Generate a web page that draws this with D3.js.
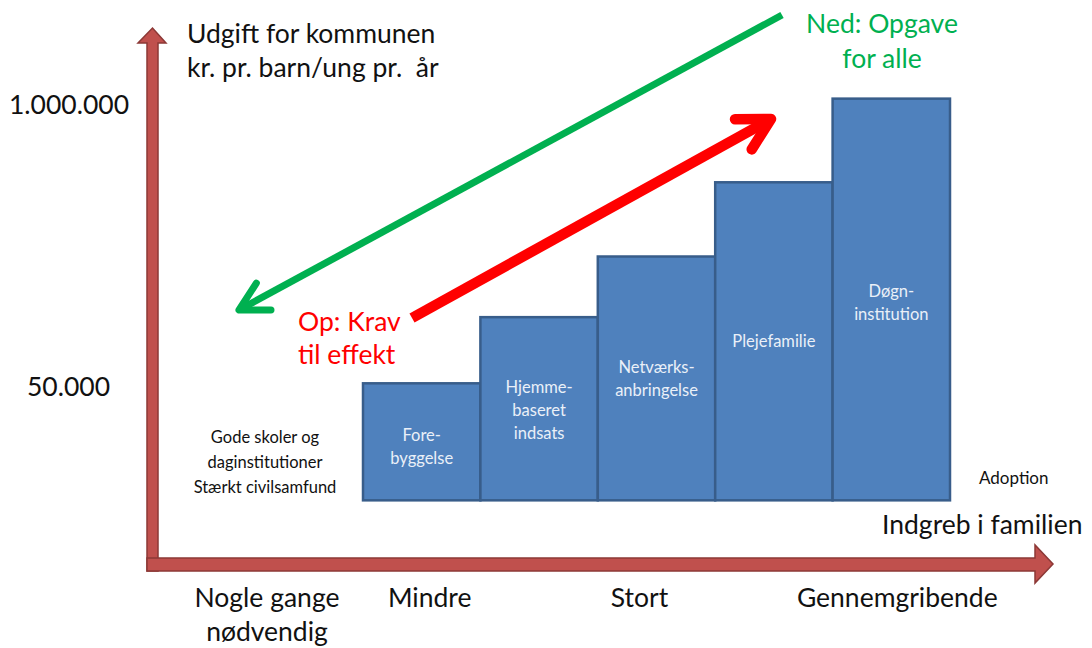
<!DOCTYPE html>
<html>
<head>
<meta charset="utf-8">
<script src="https://cdn.jsdelivr.net/npm/d3@7"></script>
<style>
  body { margin: 0; background: #fff; }
  text { font-family: Lato, "Open Sans", sans-serif; }
</style>
</head>
<body>
<div id="chart"></div>
<script>
// indsatser (bars) and their yearly cost per child, kr.
const categories = ["Forebyggelse", "Hjemmebaseret", "Netværksanbringelse", "Plejefamilie", "Døgninstitution"];
const barLabels = [["Fore-", "byggelse"], ["Hjemme-", "baseret", "indsats"], ["Netværks-", "anbringelse"], ["Plejefamilie"], ["Døgn-", "institution"]];
const costs = [52000, 105000, 200000, 440000, 1070000];
const costBase = 15000;
const yTicks = [50000, 1000000];
const yTickLabels = ["50.000", "1.000.000"];
const xLevels = ["Nogle gange\nnødvendig", "Mindre", "Stort", "Gennemgribende"];

const width = 1092, height = 648;
const big = 26.5, small = 16.5;

const svg = d3.select("#chart")
    .append("svg")
    .attr("width", width)
    .attr("height", height);

const x = d3.scaleBand().domain(categories).range([363, 950]).padding(0);
const y = d3.scaleLog().domain([50000, 1000000]).range([387, 105]);

const barFill = "#4f81bd", barStroke = "#385d8a";
const axisFill = "#c0504d", axisStroke = "#8c3836";
const green = "#00b050", red = "#ff0000";

// ---- axes (big red arrows) ----
function axisArrow(points) {
    svg.append("path")
        .attr("d", "M" + points.map(p => p.join(",")).join("L") + "Z")
        .attr("fill", axisFill)
        .attr("stroke", axisStroke)
        .attr("stroke-width", 1.5)
        .attr("stroke-linejoin", "miter");
}
// y axis
axisArrow([[147, 571], [147, 43], [138, 43], [152.5, 28], [166, 43], [158, 43], [158, 571]]);
// x axis
axisArrow([[147, 571], [147, 558], [1035, 558], [1035, 545], [1053, 564], [1035, 583], [1035, 571]]);

// ---- bars ----
const bars = svg.append("g").attr("class", "bars");
bars.selectAll("rect")
    .data(categories)
    .join("rect")
    .attr("x", d => x(d))
    .attr("y", (d, i) => y(costs[i]))
    .attr("width", x.bandwidth())
    .attr("height", (d, i) => y(costBase) - y(costs[i]))
    .attr("fill", barFill)
    .attr("stroke", barStroke)
    .attr("stroke-width", 2.5);

// first baseline of each bar label
const labelTop = [441, 393, 373, 347, 297];
categories.forEach((c, i) => {
    const t = bars.append("text")
        .attr("text-anchor", "middle")
        .attr("fill", "#eaf0f8")
        .style("font-size", small + "px");
    barLabels[i].forEach((line, j) => {
        t.append("tspan")
            .attr("x", x(c) + x.bandwidth() / 2)
            .attr("y", labelTop[i] + j * 23)
            .text(line);
    });
});

// ---- y tick labels ----
svg.selectAll("text.ytick")
    .data(yTicks)
    .join("text")
    .attr("class", "ytick")
    .attr("x", d => d === 1000000 ? 9 : 27)
    .attr("y", d => y(d) + 9)
    .style("font-size", big + "px")
    .attr("fill", "#111")
    .text((d, i) => yTickLabels[i]);

function block(lines, px, py, size, color, anchor, lh) {
    const t = svg.append("text")
        .attr("text-anchor", anchor)
        .attr("fill", color)
        .style("font-size", size + "px")
        .style("white-space", "pre");
    lines.forEach((l, i) => {
        t.append("tspan").attr("x", px).attr("y", py + i * lh).text(l);
    });
    return t;
}

// ---- axis titles ----
block(["Udgift for kommunen", "kr. pr. barn/ung pr.  år"], 187, 43, big, "#111", "start", 34);
block(["Indgreb i familien"], 882, 534, big, "#111", "start", 0);

// ---- x level labels ----
const levelX = [x(categories[0]) - 96, x(categories[0]) + x.bandwidth() / 2 + 8,
                x(categories[2]) + x.bandwidth() / 2 - 17, x(categories[4]) + x.bandwidth() / 2 + 6];
xLevels.forEach((lv, i) => {
    block(lv.split("\n"), levelX[i], 607, big, "#111", "middle", 34);
});

// ---- side notes ----
block(["Gode skoler og", "daginstitutioner", "Stærkt civilsamfund"], 265, 443, 16.5, "#111", "middle", 25);
block(["Adoption"], 979, 484, 17, "#111", "start", 0);

// ---- direction arrows ----
function arrowLine(x1, y1, x2, y2, color, w, head) {
    const g = svg.append("g");
    g.append("line")
        .attr("x1", x1).attr("y1", y1)
        .attr("x2", x2).attr("y2", y2)
        .attr("stroke", color)
        .attr("stroke-width", w);
    const a = Math.atan2(y2 - y1, x2 - x1);
    const spread = 0.5;
    const p1 = [x2 - head * Math.cos(a - spread), y2 - head * Math.sin(a - spread)];
    const p2 = [x2 - head * Math.cos(a + spread), y2 - head * Math.sin(a + spread)];
    g.append("path")
        .attr("d", "M" + p1.join(",") + "L" + x2 + "," + y2 + "L" + p2.join(","))
        .attr("fill", "none")
        .attr("stroke", color)
        .attr("stroke-width", w)
        .attr("stroke-linecap", "round")
        .attr("stroke-linejoin", "round");
}
arrowLine(782, 15, 239, 310, green, 7, 32);
arrowLine(412, 318, 771, 119, red, 10.5, 36);

block(["Ned: Opgave", "for alle"], 882, 33, big, green, "middle", 35);
block(["Op: Krav", "til effekt"], 298, 331, big, red, "start", 33);
</script>
</body>
</html>
